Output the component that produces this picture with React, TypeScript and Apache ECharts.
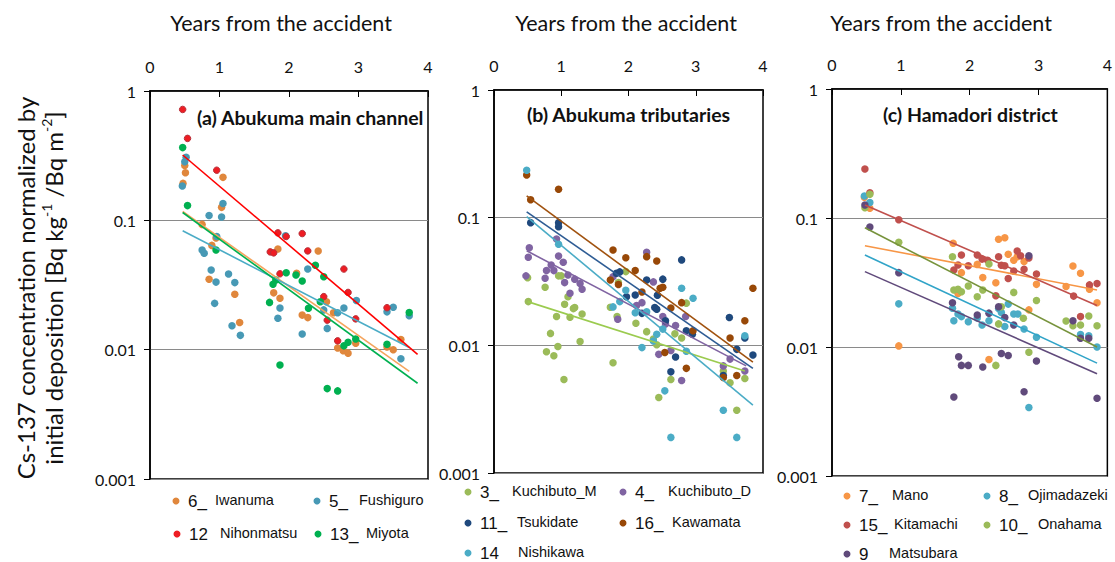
import React, { useEffect, useRef } from "react";
import * as echarts from "echarts";

// ---------- data: [years from accident, normalized concentration] ----------
// (a) Abukuma main channel
const iwanuma = [[0.5,0.265],[0.51,0.233],[0.475,0.193],[1.05,0.215],[1.03,0.126],[0.75,0.093],[0.95,0.073],[0.89,0.064],[0.85,0.035],[1.22,0.0268],[1.29,0.0162],[1.84,0.06],[1.78,0.0275],[1.87,0.025],[2.11,0.039],[2.42,0.058],[2.54,0.0235],[2.19,0.0185],[2.27,0.0177],[2.64,0.0193],[2.7,0.0103],[2.78,0.0098],[2.85,0.0094],[2.96,0.0112],[3.41,0.0105],[3.5,0.01],[3.61,0.012]];
const fushiguro = [[0.52,0.307],[0.5,0.284],[0.465,0.184],[1.05,0.135],[1.03,0.106],[0.85,0.109],[0.96,0.075],[0.75,0.059],[0.78,0.0556],[0.88,0.0413],[0.95,0.0333],[1.13,0.0385],[1.22,0.033],[0.93,0.0228],[1.18,0.0153],[1.3,0.0129],[1.95,0.076],[2.27,0.042],[1.87,0.021],[1.84,0.0175],[2.19,0.0132],[2.5,0.0203],[2.55,0.0146],[2.7,0.0193],[2.79,0.021],[2.97,0.024],[3.41,0.0196],[3.5,0.0213],[3.61,0.0085],[3.73,0.0183]];
const nihonmatsu = [[0.47,0.72],[0.54,0.43],[0.96,0.244],[1.84,0.08],[1.96,0.075],[2.19,0.079],[1.73,0.057],[1.78,0.056],[2.27,0.058],[2.79,0.042],[2.85,0.0277],[1.87,0.0386],[2.5,0.0257],[3.41,0.0211],[2.55,0.0169],[2.96,0.0173],[2.7,0.0117]];
const miyota = [[0.47,0.365],[0.54,0.13],[0.95,0.059],[1.72,0.0232],[1.77,0.032],[1.81,0.0345],[1.96,0.0393],[2.1,0.0378],[2.19,0.034],[2.38,0.0449],[2.5,0.0366],[2.28,0.0209],[2.45,0.0235],[1.87,0.0076],[2.55,0.005],[2.7,0.0048],[2.79,0.0107],[2.85,0.0114],[2.96,0.0121],[3.41,0.011],[3.73,0.0194]];
const iwanumaFit = [[0.47,0.117],[3.73,0.0068]];
const fushiguroFit = [[0.47,0.083],[3.73,0.0104]];
const nihonmatsuFit = [[0.47,0.32],[3.85,0.0092]];
const miyotaFit = [[0.47,0.115],[3.85,0.0055]];

// (b) Abukuma tributaries
const kuchibutoM = [[0.5,0.0339],[0.96,0.035],[1.0,0.035],[0.76,0.0285],[0.51,0.022],[1.05,0.021],[1.2,0.0198],[1.1,0.024],[1.18,0.0194],[1.31,0.0176],[0.93,0.0168],[1.13,0.0166],[0.84,0.0124],[1.28,0.0107],[0.78,0.0089],[0.95,0.0098],[0.89,0.0083],[1.04,0.0054],[1.96,0.0378],[1.85,0.031],[1.73,0.0199],[1.83,0.0168],[1.77,0.0073],[2.11,0.0149],[2.27,0.0128],[2.37,0.0112],[2.42,0.0101],[2.69,0.0123],[2.79,0.0114],[2.63,0.0054],[2.45,0.0039],[2.86,0.0214],[3.51,0.0051],[3.61,0.0031],[3.73,0.0055],[3.41,0.0063]];
const kuchibutoD = [[0.525,0.058],[0.51,0.049],[0.475,0.035],[0.93,0.068],[0.96,0.05],[1.03,0.0447],[0.85,0.0426],[0.78,0.0385],[0.89,0.0385],[0.76,0.0335],[1.1,0.0356],[1.2,0.033],[1.05,0.031],[1.28,0.0305],[1.31,0.0275],[1.13,0.0256],[2.27,0.0536],[2.37,0.0314],[1.77,0.0345],[2.2,0.0216],[2.12,0.0205],[1.84,0.016],[2.51,0.0168],[2.55,0.0147],[2.7,0.0143],[2.85,0.0168],[2.45,0.0085],[2.63,0.0091],[2.79,0.0053],[3.41,0.0069],[3.51,0.0078],[3.73,0.0063]];
const tsukidate = [[0.545,0.0914],[0.96,0.0914],[0.96,0.085],[1.82,0.0367],[1.87,0.0376],[2.79,0.0467],[2.27,0.0325],[2.51,0.033],[2.1,0.0248],[2.43,0.0247],[1.97,0.024],[2.39,0.0198],[2.42,0.0192],[2.55,0.0156],[2.63,0.0062],[2.7,0.0081],[2.86,0.013],[2.95,0.0122],[3.5,0.0165],[3.41,0.0058],[3.61,0.0093],[3.73,0.0114],[3.85,0.0084],[2.2,0.0178]];
const kawamata = [[0.486,0.216],[0.545,0.138],[0.96,0.167],[1.77,0.0558],[1.96,0.0486],[2.1,0.0385],[2.27,0.0495],[2.42,0.0458],[2.47,0.028],[2.51,0.0285],[1.73,0.0325],[1.85,0.03],[2.2,0.0262],[2.79,0.0216],[3.85,0.028],[2.63,0.0196],[2.54,0.0088],[2.86,0.0066],[2.96,0.013],[3.51,0.0114],[3.41,0.0056],[3.61,0.0058],[3.73,0.0156]];
const nishikawa = [[0.486,0.235],[0.96,0.062],[1.96,0.027],[2.79,0.028],[2.96,0.0234],[1.87,0.022],[1.77,0.02],[2.1,0.018],[2.27,0.0183],[2.2,0.0096],[2.42,0.0122],[2.37,0.0108],[2.51,0.0134],[2.54,0.0044],[2.63,0.0019],[2.86,0.009],[3.41,0.0031],[3.61,0.0019],[3.73,0.0119]];
const kuchibutoMFit = [[0.5,0.022],[3.73,0.0063]];
const kuchibutoDFit = [[0.486,0.055],[3.75,0.0069]];
const tsukidateFit = [[0.486,0.111],[3.85,0.0066]];
const kawamataFit = [[0.486,0.148],[3.85,0.0074]];
const nishikawaFit = [[0.486,0.102],[3.85,0.0034]];

// (c) Hamadori district
const mano = [[0.47,0.145],[0.55,0.119],[0.97,0.0102],[1.76,0.0637],[1.88,0.0377],[2.11,0.0437],[2.19,0.0345],[2.38,0.0315],[2.42,0.0684],[2.51,0.0703],[2.56,0.0523],[2.64,0.047],[2.69,0.05],[2.79,0.046],[2.97,0.0306],[3.5,0.0425],[3.61,0.0373],[3.4,0.0294],[3.74,0.028],[3.85,0.022],[1.83,0.026],[2.86,0.0194],[2.28,0.008]];
const kitamachi = [[0.478,0.24],[0.55,0.157],[0.97,0.097],[1.77,0.0395],[1.83,0.0432],[1.88,0.0517],[1.98,0.0427],[2.11,0.0517],[2.18,0.048],[2.26,0.047],[2.42,0.05],[2.46,0.043],[2.51,0.0427],[2.69,0.0555],[2.74,0.051],[2.86,0.049],[2.64,0.0388],[2.79,0.04],[2.56,0.034],[2.97,0.0368],[2.38,0.025],[3.51,0.0248],[3.74,0.0303],[3.85,0.031],[3.61,0.0172]];
const onahama = [[0.478,0.12],[0.55,0.153],[0.97,0.0648],[1.75,0.05],[1.77,0.0277],[1.83,0.028],[1.88,0.0268],[1.98,0.0297],[2.11,0.0245],[2.19,0.0277],[2.28,0.044],[2.64,0.0265],[2.97,0.0229],[2.46,0.0205],[2.42,0.0151],[2.78,0.0167],[2.86,0.0091],[2.38,0.0072],[3.4,0.0159],[3.5,0.0146],[3.61,0.0148],[3.73,0.0174],[3.85,0.0146]];
const ojimadazeki = [[0.47,0.148],[0.55,0.132],[0.97,0.0216],[1.75,0.02],[1.77,0.016],[1.83,0.018],[1.88,0.0172],[1.98,0.0157],[2.11,0.0168],[2.18,0.0148],[2.28,0.016],[2.42,0.0199],[2.46,0.0185],[2.56,0.0215],[2.51,0.0144],[2.64,0.018],[2.7,0.018],[2.79,0.0138],[2.97,0.0119],[2.86,0.0034],[3.61,0.0125],[3.73,0.0122],[3.85,0.01]];
const matsubara = [[0.478,0.126],[0.55,0.085],[0.97,0.0377],[1.75,0.022],[2.86,0.051],[2.11,0.0177],[2.28,0.0183],[2.42,0.0205],[2.51,0.0169],[2.64,0.0148],[1.84,0.0084],[1.88,0.0072],[1.98,0.0072],[2.19,0.007],[2.46,0.0089],[2.56,0.0086],[1.77,0.0041],[2.79,0.0045],[2.97,0.0078],[3.5,0.016],[3.61,0.0117],[3.73,0.0117],[3.85,0.004]];
const manoFit = [[0.478,0.061],[3.85,0.0277]];
const kitamachiFit = [[0.478,0.126],[3.85,0.021]];
const onahamaFit = [[0.478,0.084],[3.85,0.01]];
const ojimadazekiFit = [[0.478,0.0517],[3.85,0.0075]];
const matsubaraFit = [[0.478,0.0384],[3.85,0.0062]];

const panelTitles = ["(a) Abukuma main channel", "(b) Abukuma tributaries", "(c) Hamadori district"];
const xTickLabels = ["0", "1", "2", "3", "4"];
const xAxisTitle = "Years from the accident";

const FONT = 'Lato, "Open Sans", sans-serif';
const SANS = '"Liberation Sans", Arial, sans-serif';

type S = {
  num: string; name: string; panel: number; data: number[][]; fit: number[][];
  color: string; fitColor: string; border?: string;
  mx: number; my: number; nameX: number;
};

const seriesDefs: S[] = [
  { num: "6_", name: "Iwanuma", panel: 0, data: iwanuma, fit: iwanumaFit, color: "#E0873C", fitColor: "#F5A55E", mx: 176, my: 502, nameX: 215 },
  { num: "5_", name: "Fushiguro", panel: 0, data: fushiguro, fit: fushiguroFit, color: "#4799B5", fitColor: "#4BACC6", mx: 317, my: 502, nameX: 359 },
  { num: "12", name: "Nihonmatsu", panel: 0, data: nihonmatsu, fit: nihonmatsuFit, color: "#EE1D23", fitColor: "#FF0000", border: "#B8303A", mx: 177, my: 535, nameX: 220 },
  { num: "13_", name: "Miyota", panel: 0, data: miyota, fit: miyotaFit, color: "#00B050", fitColor: "#00B050", mx: 318, my: 535, nameX: 366 },
  { num: "3_", name: "Kuchibuto_M", panel: 1, data: kuchibutoM, fit: kuchibutoMFit, color: "#9BBB59", fitColor: "#9BCB4F", mx: 468, my: 493, nameX: 512 },
  { num: "4_", name: "Kuchibuto_D", panel: 1, data: kuchibutoD, fit: kuchibutoDFit, color: "#8064A2", fitColor: "#8064A2", mx: 623, my: 493, nameX: 668 },
  { num: "11_", name: "Tsukidate", panel: 1, data: tsukidate, fit: tsukidateFit, color: "#1F497D", fitColor: "#2E5C94", mx: 468, my: 524, nameX: 517 },
  { num: "16_", name: "Kawamata", panel: 1, data: kawamata, fit: kawamataFit, color: "#984807", fitColor: "#A0520F", mx: 623, my: 524, nameX: 672 },
  { num: "14", name: "Nishikawa", panel: 1, data: nishikawa, fit: nishikawaFit, color: "#4BACC6", fitColor: "#4BACC6", mx: 468, my: 554, nameX: 518 },
  { num: "7_", name: "Mano", panel: 2, data: mano, fit: manoFit, color: "#F79646", fitColor: "#F79646", mx: 847, my: 497, nameX: 892 },
  { num: "8_", name: "Ojimadazeki", panel: 2, data: ojimadazeki, fit: ojimadazekiFit, color: "#4BACC6", fitColor: "#31A4C8", mx: 987, my: 497, nameX: 1028 },
  { num: "15_", name: "Kitamachi", panel: 2, data: kitamachi, fit: kitamachiFit, color: "#C0504D", fitColor: "#C0504D", mx: 847, my: 526, nameX: 894 },
  { num: "10_", name: "Onahama", panel: 2, data: onahama, fit: onahamaFit, color: "#9BBB59", fitColor: "#77933C", mx: 987, my: 526, nameX: 1038 },
  { num: "9", name: "Matsubara", panel: 2, data: matsubara, fit: matsubaraFit, color: "#604A7B", fitColor: "#604A7B", mx: 847, my: 555, nameX: 889 },
];

const grids = [
  { left: 150, top: 91, width: 278, height: 388 },
  { left: 494, top: 90, width: 269, height: 383 },
  { left: 832, top: 89, width: 276, height: 387 },
];
const titlePos = [
  { x: 197, y: 119 },
  { x: 527, y: 116 },
  { x: 883, y: 116 },
];
const axisTitleCenters = [281, 626, 941];

export default function App() {
  const ref = useRef<HTMLDivElement>(null);
  useEffect(() => {
    if (!ref.current) return;
    const chart = echarts.init(ref.current, null, { renderer: "svg" });

    const xAxes = grids.map((_, i) => ({
      type: "value",
      gridIndex: i,
      position: "top",
      min: 0,
      max: 4,
      interval: 1,
      axisLine: { show: true, onZero: false, lineStyle: { color: "#000", width: 1.5 } },
      axisTick: { show: true, inside: true, length: 6, lineStyle: { color: "#000", width: 1 } },
      axisLabel: {
        margin: 17,
        fontSize: 16,
        color: "#111",
        fontFamily: FONT,
        formatter: (v: number) => xTickLabels[Math.round(v)] ?? String(v),
      },
      splitLine: { show: false },
    }));

    const yAxes = grids.map((_, i) => ({
      type: "log",
      logBase: 10,
      gridIndex: i,
      min: 0.001,
      max: 1,
      axisLine: { show: true, lineStyle: { color: "#000", width: 1.5 } },
      axisTick: { show: true, inside: false, length: 6, lineStyle: { color: "#000", width: 1 } },
      axisLabel: {
        margin: 14,
        fontSize: 16,
        color: "#111",
        fontFamily: FONT,
        formatter: (v: number) => String(Number(v.toFixed(3))),
      },
      splitLine: { show: true, lineStyle: { color: "#8a8a8a", width: 1 } },
    }));

    const series: any[] = [];
    seriesDefs.forEach((d) => {
      series.push({
        type: "line",
        name: `${d.num} ${d.name} trend`,
        xAxisIndex: d.panel,
        yAxisIndex: d.panel,
        data: d.fit,
        symbol: "none",
        showSymbol: false,
        silent: true,
        lineStyle: { color: d.fitColor, width: 1.6 },
        z: 4,
      });
    });
    seriesDefs.forEach((d) => {
      series.push({
        type: "scatter",
        name: `${d.num} ${d.name}`,
        xAxisIndex: d.panel,
        yAxisIndex: d.panel,
        data: d.data,
        symbol: "circle",
        symbolSize: d.border ? 6.5 : 7.5,
        itemStyle: {
          color: d.color,
          opacity: 1,
          borderColor: d.border ?? d.color,
          borderWidth: d.border ? 1 : 0,
        },
        z: 3,
      });
    });

    const legends = seriesDefs.map((d) => {
      const numStart = d.mx + 12;
      return {
        left: d.mx - 3.5,
        top: d.my - 10,
        padding: 0,
        orient: "horizontal",
        icon: "circle",
        itemWidth: 7,
        itemHeight: 7,
        itemStyle: { borderWidth: 0 },
        selectedMode: false,
        data: [`${d.num} ${d.name}`],
        formatter: () => `{n|${d.num}}{t|${d.name}}`,
        textStyle: {
          rich: {
            n: {
              fontSize: 17,
              fontFamily: SANS,
              color: "#111",
              width: d.nameX - numStart,
              lineHeight: 20,
              padding: [0, 0, 0, 3.5],
            },
            t: {
              fontSize: 14.5,
              fontFamily: SANS,
              color: "#111",
              lineHeight: 20,
              padding: [0, 0, 3, 0],
            },
          },
        },
      };
    });

    const graphics: any[] = panelTitles.map((t, i) => ({
      type: "text",
      left: titlePos[i].x,
      top: titlePos[i].y - 12,
      style: { text: t, fontSize: 19.5, fontWeight: "bold", fontFamily: FONT, fill: "#111" },
      z: 10,
    }));
    axisTitleCenters.forEach((cx) => {
      graphics.push({
        type: "text",
        x: cx,
        y: 23,
        style: {
          text: xAxisTitle,
          align: "center",
          verticalAlign: "middle",
          fontSize: 21.5,
          fontFamily: FONT,
          fill: "#111",
        },
      });
    });
    graphics.push({
      type: "text",
      x: 39,
      y: 288,
      rotation: Math.PI / 2,
      style: {
        text:
          "{a|Cs-137 concentration normalized by}\n{a|initial deposition [Bq kg}{s|-1}{a| /Bq m}{s|-2}{a|]}",
        align: "center",
        verticalAlign: "middle",
        fill: "#111",
        rich: {
          a: { fontSize: 24, fontFamily: FONT, lineHeight: 28, fill: "#111" },
          s: { fontSize: 14, fontFamily: FONT, lineHeight: 28, fill: "#111", verticalAlign: "top", padding: [0, 0, 10, 0] },
        },
      },
    });

    chart.setOption({
      animation: false,
      backgroundColor: "#fff",
      grid: grids.map((g) => ({ ...g, show: true, borderColor: "#000", borderWidth: 1.5, backgroundColor: "transparent" })),
      xAxis: xAxes,
      yAxis: yAxes,
      legend: legends,
      series,
      graphic: graphics,
    });
    return () => chart.dispose();
  }, []);
  return (
    <div
      ref={ref}
      style={{ position: "absolute", left: 0, top: 0, width: 1115, height: 562, background: "#fff" }}
    />
  );
}
